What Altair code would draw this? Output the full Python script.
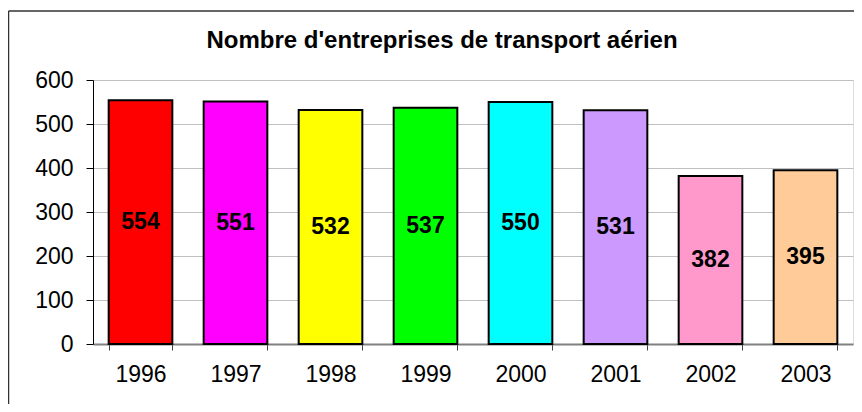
import altair as alt
import pandas as pd

years = ["1996", "1997", "1998", "1999", "2000", "2001", "2002", "2003"]
values = [554, 551, 532, 537, 550, 531, 382, 395]
colors = ["#FF0000", "#FF00FF", "#FFFF00", "#00FF00", "#00FFFF", "#CC99FF", "#FF99CC", "#FFCC99"]

df = pd.DataFrame({"year": years, "value": values, "color": colors})
df["half"] = df["value"] / 2

FONT = "Liberation Sans"

x_enc = alt.X(
    "year:N",
    sort=years,
    title=None,
    scale=alt.Scale(paddingInner=0.33, paddingOuter=0.165),
    axis=alt.Axis(
        labelAngle=0, labelFont=FONT, labelFontSize=23, labelColor="#000000",
        labelPadding=13, tickSize=6, tickColor="#404040", tickBand="extent",
        domainColor="#808080", domainWidth=2, grid=False,
    ),
)
y_scale = alt.Scale(domain=[0, 600])
y_axis = alt.Axis(
    values=[0, 100, 200, 300, 400, 500, 600], labelFont=FONT, labelFontSize=23,
    labelColor="#000000", labelPadding=13, tickSize=7, tickColor="#000000",
    domainColor="#000000", domainWidth=1, gridColor="#C0C0C0", gridWidth=1,
)

bars = alt.Chart(df).mark_bar(stroke="#000000", strokeWidth=2).encode(
    x=x_enc,
    y=alt.Y("value:Q", scale=y_scale, axis=y_axis, title=None),
    color=alt.Color("color:N", scale=None),
)

labels = alt.Chart(df).mark_text(
    font=FONT, fontSize=23, fontWeight="bold", color="#000000", baseline="middle"
).encode(
    x=alt.X("year:N", sort=years),
    y=alt.Y("half:Q", scale=y_scale),
    text=alt.Text("value:Q"),
)

border = alt.Chart(pd.DataFrame({"k": [0]})).mark_rule(color="#333333", strokeWidth=1.5).encode(
    x=alt.value(-84.5), y=alt.value(-69), y2=alt.value(400)
)
border_top = alt.Chart(pd.DataFrame({"k": [0]})).mark_rule(color="#333333", strokeWidth=1.5).encode(
    x=alt.value(-84.5), x2=alt.value(800), y=alt.value(-69)
)

chart = alt.layer(bars, labels, border, border_top).properties(
    width=760,
    height=264,
    title=alt.TitleParams(
        "Nombre d'entreprises de transport aérien",
        font=FONT, fontSize=24, fontWeight="bold", color="#000000",
        anchor="middle", dx=-31, offset=-43,
    ),
    autosize=alt.AutoSizeParams(type="none"),
    padding={"left": 85, "top": 72, "right": 1, "bottom": 60},
).configure_view(
    stroke="#C0C0C0", strokeWidth=2
).configure(background="#FFFFFF")

chart.save("out.html", embed_options={"renderer": "svg", "actions": False})
